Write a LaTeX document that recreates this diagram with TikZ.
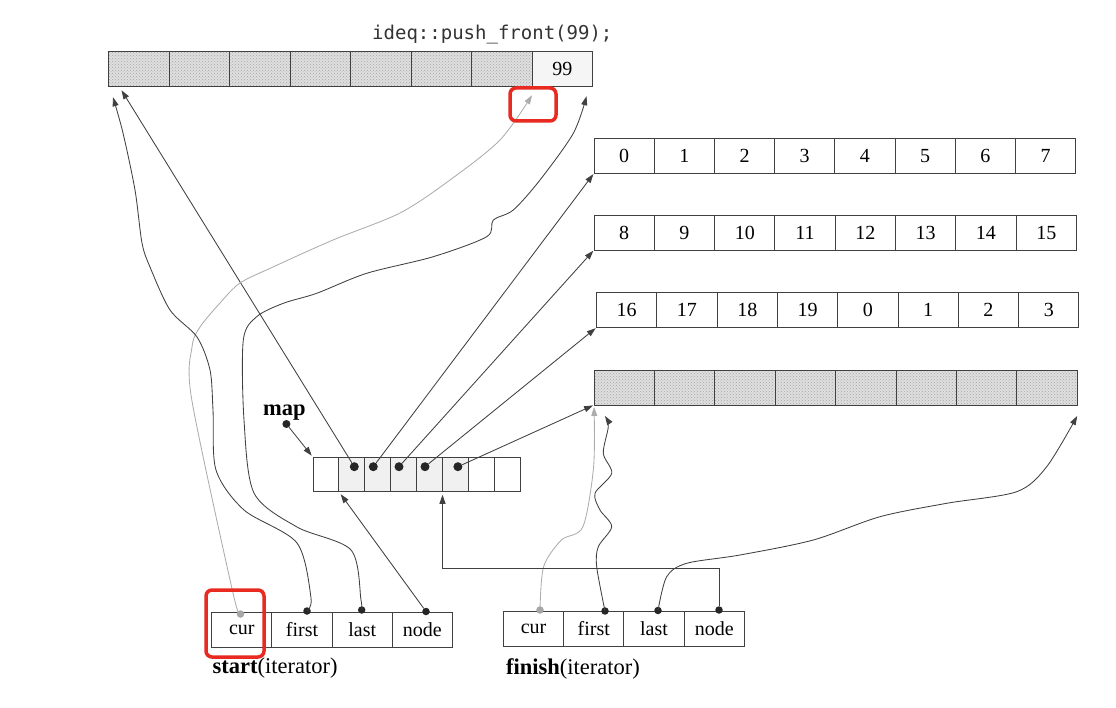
\documentclass[tikz,border=0pt]{standalone}
\usepackage{fontspec}
\setmainfont{Liberation Serif}
\setmonofont{DejaVu Sans Mono}
\usetikzlibrary{arrows.meta,patterns,positioning}
\definecolor{markred}{RGB}{232,42,32}

\tikzset{
  cell/.style={draw=black!75, line width=0.9pt, minimum height=35pt,
    inner sep=0pt, outer sep=0pt, font=\fontsize{20}{24}\selectfont},
  hatched/.style={preaction={fill=gray!25}, pattern=crosshatch dots,
    pattern color=gray!70},
  ptrdot/.style={circle, fill=black!85, inner sep=0pt, minimum size=8pt},
  ptr/.style={-{Triangle[length=9pt,width=6pt]}, line width=0.85pt, draw=black!75},
  curptr/.style={ptr, draw=gray!65},
  tag/.style={font=\fontsize{22.5}{26}\selectfont, inner sep=0pt},
  redbox/.style={draw=markred, line width=3.5pt, rounded corners=6pt}
}

\begin{document}
\begin{tikzpicture}[x=1pt, y=-1pt]
\useasboundingbox (0,0) rectangle (1116,708);

% buffer after push_front
\foreach \i in {0,...,6}
  \node[cell, hatched, minimum width=60.5pt, minimum height=34.5pt] (t\i) at ({108.5+60.5*(\i+0.5)},69) {};
\node[cell, fill=gray!8, minimum width=60.5pt, minimum height=34.5pt] (t7) at ({108.5+60.5*7.5},69) {99};
\node[font=\ttfamily\fontsize{19}{22}\selectfont, text=black!80, anchor=base west, inner sep=0pt] (call) at (372,40) {ideq::push\_front(99);};

% the other buffers
\foreach \v [count=\i from 0] in {0,...,7}
  \node[cell, minimum width=60.2pt] (r1-\i) at ({594+60.2*(\i+0.5)},155.8) {\v};
\foreach \v [count=\i from 0] in {8,...,15}
  \node[cell, minimum width=60.3pt] (r2-\i) at ({594+60.3*(\i+0.5)},232.5) {\v};
\foreach \v [count=\i from 0] in {16,17,18,19,0,1,2,3}
  \node[cell, minimum width=60.3pt] (r3-\i) at ({596.5+60.3*(\i+0.5)},310) {\v};
\foreach \i in {0,...,7}
  \node[cell, hatched, minimum width=60.4pt] (r4-\i) at ({594+60.4*(\i+0.5)},387.5) {};

% map
\foreach \i in {0,6,7}
  \node[cell, minimum width=25.9pt, minimum height=34.5pt] (m\i) at ({313+25.9*(\i+0.5)},474.5) {};
\foreach \i in {1,...,5}
  \node[cell, fill=gray!12, minimum width=25.9pt, minimum height=34.5pt] (m\i) at ({313+25.9*(\i+0.5)},474.5) {};
\foreach \x [count=\k] in {354.3,373.3,399,425,457.9}
  \node[ptrdot, minimum size=9pt] (md\k) at (\x,466.7) {};
\node[tag, anchor=base west] (maplbl) at (263,415) {\textbf{map}};
\node[ptrdot] (mapdot) at (286.4,424) {};

% iterators
\foreach \t [count=\i from 0] in {cur,first,last,node}
  \node[cell, minimum width=60.2pt, minimum height=35.5pt] (s\i) at ({211.7+60.2*(\i+0.5)},630) {\t};
\foreach \t [count=\i from 0] in {cur,first,last,node}
  \node[cell, minimum width=60.2pt, minimum height=35.7pt] (f\i) at ({503.5+60.2*(\i+0.5)},629) {\t};
\node[ptrdot, fill=gray!70, minimum size=7.5pt] (scur) at (240.5,614) {};
\node[ptrdot, minimum size=7.5pt] (sfirst) at (307,611) {};
\node[ptrdot, minimum size=7.5pt] (slast) at (361.7,610) {};
\node[ptrdot, minimum size=7.5pt] (snode) at (426,611.5) {};
\node[ptrdot, fill=gray!70, minimum size=7.5pt] (fcur) at (540,610) {};
\node[ptrdot, minimum size=7.5pt] (ffirst) at (605,611) {};
\node[ptrdot, minimum size=7.5pt] (flast) at (658,610.5) {};
\node[ptrdot, minimum size=7.5pt] (fnode) at (719,610) {};
\node[tag, anchor=base west] (startlbl) at (212.5,673) {\textbf{start}(iterator)};
\node[tag, anchor=base west] (finishlbl) at (506,674.5) {\textbf{finish}(iterator)};

% map pointers
\draw[ptr, shorten >=2pt] (mapdot) -- (m0.north west);
\draw[ptr] (md1) -- ([xshift=13pt,yshift=-4pt]t0.south west);
\draw[ptr, shorten >=1pt] (md2) -- (r1-0.south west);
\draw[ptr, shorten >=1pt] (md3) -- (r2-0.south west);
\draw[ptr, shorten >=1pt] (md4) -- (r3-0.south west);
\draw[ptr, shorten >=1pt] (md5) -- (r4-0.south west);

% start
\draw[curptr] plot[smooth] coordinates {(scur) (233,593) (191.8,400) (192,347) (200,327)
  (220,303) (240,283) (273,267) (333,240) (400,213) (450,180) (500,140) ([yshift=-9pt]t7.south west)};
\draw[ptr] plot[smooth] coordinates {(sfirst) (311,598) (297,543) (244,510) (216,470) (213,410)
  (210,370) (197,337) (170,310) (150,267) (142,243) (135,190) (123,133) ([xshift=4.5pt,yshift=-11pt]t0.south west)};
\draw[ptr] plot[smooth] coordinates {(slast) (361,600) (351,550) (297,527) (254,493) (244,420)
  (243.3,340) (256.7,316.7) (283.3,303.3) (316.7,293.3) (366.7,273.3) (433.3,256.7) (486.7,236.7)
  (493.3,220) (513.3,210) (540,180) (573.3,133.3) ([xshift=-6pt,yshift=-10pt]t7.south east)};
\draw[ptr, shorten >=3pt] (snode) -- (m1.south west);

% finish
\draw[curptr, shorten >=2pt] plot[smooth] coordinates {(fcur) (543.6,566.7) (561.4,540) (582.9,526.7)
  (593.6,466.7) (r4-0.south west)};
\draw[ptr] plot[smooth] coordinates {(ffirst) (596.7,566.7) (598.3,546.7) (611.7,526.7) (600,510)
  (595,493.3) (611.7,473.3) (603.3,453.3) (608.3,426.7) ([xshift=11pt,yshift=-11pt]r4-0.south west)};
\draw[ptr] plot[smooth] coordinates {(flast) (666.7,576.7) (686.7,563.3) (740,555) (813.3,540)
  (880,516.7) (946.7,503.3) (1016.7,491.7) (1046.7,466.7) ([yshift=-11pt]r4-7.south east)};
\draw[ptr, shorten >=3pt] (fnode) -- ++(0,-42) -| (m5.south west);

% marks
\draw[redbox] (206,590) rectangle (264,657);
\draw[redbox] (510,88) rectangle (556,121);
\end{tikzpicture}
\end{document}
